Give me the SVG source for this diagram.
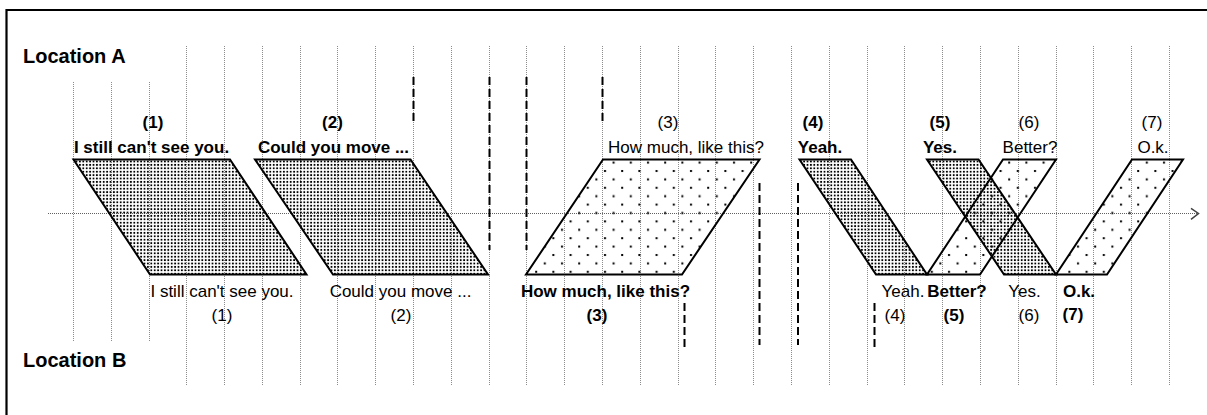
<svg xmlns="http://www.w3.org/2000/svg" width="1207" height="415" viewBox="0 0 1207 415">
<style>
.t{font-family:"Liberation Sans",Arial,sans-serif;font-size:17px;fill:#000;text-anchor:middle}
.b{font-weight:bold}
.loc{font-family:"Liberation Sans",Arial,sans-serif;font-size:20px;font-weight:bold;fill:#000}
.grid{fill:none;stroke:#8c8c8c;stroke-width:1;stroke-dasharray:1 1}
.axis{fill:none;stroke:#606060;stroke-width:1;stroke-dasharray:1 1}
.dash{fill:none;stroke:#000;stroke-width:2;stroke-dasharray:8 4}
.dense{fill:url(#pDense);stroke:none}
.light{fill:url(#pLight);stroke:none}
.edge{fill:none;stroke:#000;stroke-width:2;stroke-linejoin:miter}
</style>
<defs>
<pattern id="pDense" patternUnits="userSpaceOnUse" width="3.4" height="3.4">
<rect x="0.8" y="0.8" width="1.8" height="1.8" fill="#000"/>
</pattern>
<pattern id="pLight" patternUnits="userSpaceOnUse" width="17.2" height="16.8">
<rect x="2" y="2" width="2" height="2" fill="#000"/>
<rect x="10.6" y="10.4" width="2" height="2" fill="#000"/>
</pattern>
</defs>
<rect x="0" y="0" width="1207" height="415" fill="#fff"/>
<path d="M6.5 415 V10 H1207" fill="none" stroke="#000" stroke-width="2.2"/>
<text class="loc" x="23" y="63">Location A</text>
<text class="loc" x="23" y="367">Location B</text>
<g id="grid">
<path class="grid" d="M73.5 82V342M111.5 82V342M149.5 82V342"/>
<path class="grid" d="M186.5 46V385M224.5 46V385M262.5 46V385M300.5 46V385M337.5 46V385M375.5 46V385M413.5 46V385M451.5 46V385M489.5 46V385M526.5 46V385M564.5 46V385M602.5 46V385M640.5 46V385M678.5 46V385M715.5 46V385M753.5 46V385M791.5 46V385M829.5 46V385M867.5 46V385M904.5 46V385M942.5 46V385M980.5 46V385M1018.5 46V385M1056.5 46V385M1093.5 46V385M1131.5 46V385M1169.5 46V385"/>
</g>
<g id="connectors">
<path class="axis" d="M48 213.5H1197"/>
<path d="M1191 208.3L1198.5 213.5L1191 219.3" fill="none" stroke="#404040" stroke-width="1.5"/>
<path class="dash" d="M413.5 77V125M602.5 77V125M489.5 77V250M526.5 77V250M759.5 183V345M798 183V345M684.5 303V348M874.5 303V348"/>
</g>
<g id="u1">
<path class="dense" d="M73.5 159.5H230L306.5 274.5H150Z"/>
<path class="edge" d="M73.5 159.5H230L306.5 274.5H150Z"/>
<text class="t b" x="153" y="128">(1)</text>
<text class="t b" x="151.5" y="152.5">I still can't see you.</text>
<text class="t" x="222" y="297">I still can't see you.</text>
<text class="t" x="222" y="321">(1)</text>
</g>
<g id="u2">
<path class="dense" d="M255 159.5H410.5L488 274.5H333Z"/>
<path class="edge" d="M255 159.5H410.5L488 274.5H333Z"/>
<text class="t b" x="332.5" y="128">(2)</text>
<text class="t b" x="333.5" y="152.5">Could you move ...</text>
<text class="t" x="400.5" y="297">Could you move ...</text>
<text class="t" x="401" y="321">(2)</text>
</g>
<g id="u3">
<path class="light" d="M603 159.5H759.5L682 274.5H526Z"/>
<path class="edge" d="M603 159.5H759.5L682 274.5H526Z"/>
<text class="t" x="668" y="128">(3)</text>
<text class="t" x="686" y="152.5">How much, like this?</text>
<text class="t b" x="605.5" y="297">How much, like this?</text>
<text class="t b" x="597" y="321">(3)</text>
</g>
<g id="u4">
<path class="dense" d="M799.5 159.5H851L927 274.5H876Z"/>
<path class="edge" d="M799.5 159.5H851L927 274.5H876Z"/>
<text class="t b" x="813" y="128">(4)</text>
<text class="t b" x="820" y="152.5">Yeah.</text>
<text class="t" x="903" y="297">Yeah.</text>
<text class="t" x="895" y="321">(4)</text>
</g>
<g id="u5">
<path class="light" d="M1003 159.5H1056L980 274.5H927Z"/>
<text class="t" x="1029" y="128">(6)</text>
<text class="t" x="1030" y="152.5">Better?</text>
<text class="t b" x="957" y="297">Better?</text>
<text class="t b" x="954" y="321">(5)</text>
</g>
<g id="u6">
<path class="dense" d="M927 159.5H978.5L1056 274.5H1004Z"/>
<path class="edge" d="M1003 159.5H1056L980 274.5H927Z"/>
<path class="edge" d="M927 159.5H978.5L1056 274.5H1004Z"/>
<text class="t b" x="940" y="128">(5)</text>
<text class="t b" x="940" y="152.5">Yes.</text>
<text class="t" x="1024.5" y="297">Yes.</text>
<text class="t" x="1029" y="321">(6)</text>
</g>
<g id="u7">
<path class="light" d="M1132 159.5H1183L1107 274.5H1056Z"/>
<path class="edge" d="M1132 159.5H1183L1107 274.5H1056Z"/>
<text class="t" x="1152" y="128">(7)</text>
<text class="t" x="1153" y="152.5">O.k.</text>
<text class="t b" x="1079" y="297">O.k.</text>
<text class="t b" x="1073" y="320">(7)</text>
</g>
</svg>
